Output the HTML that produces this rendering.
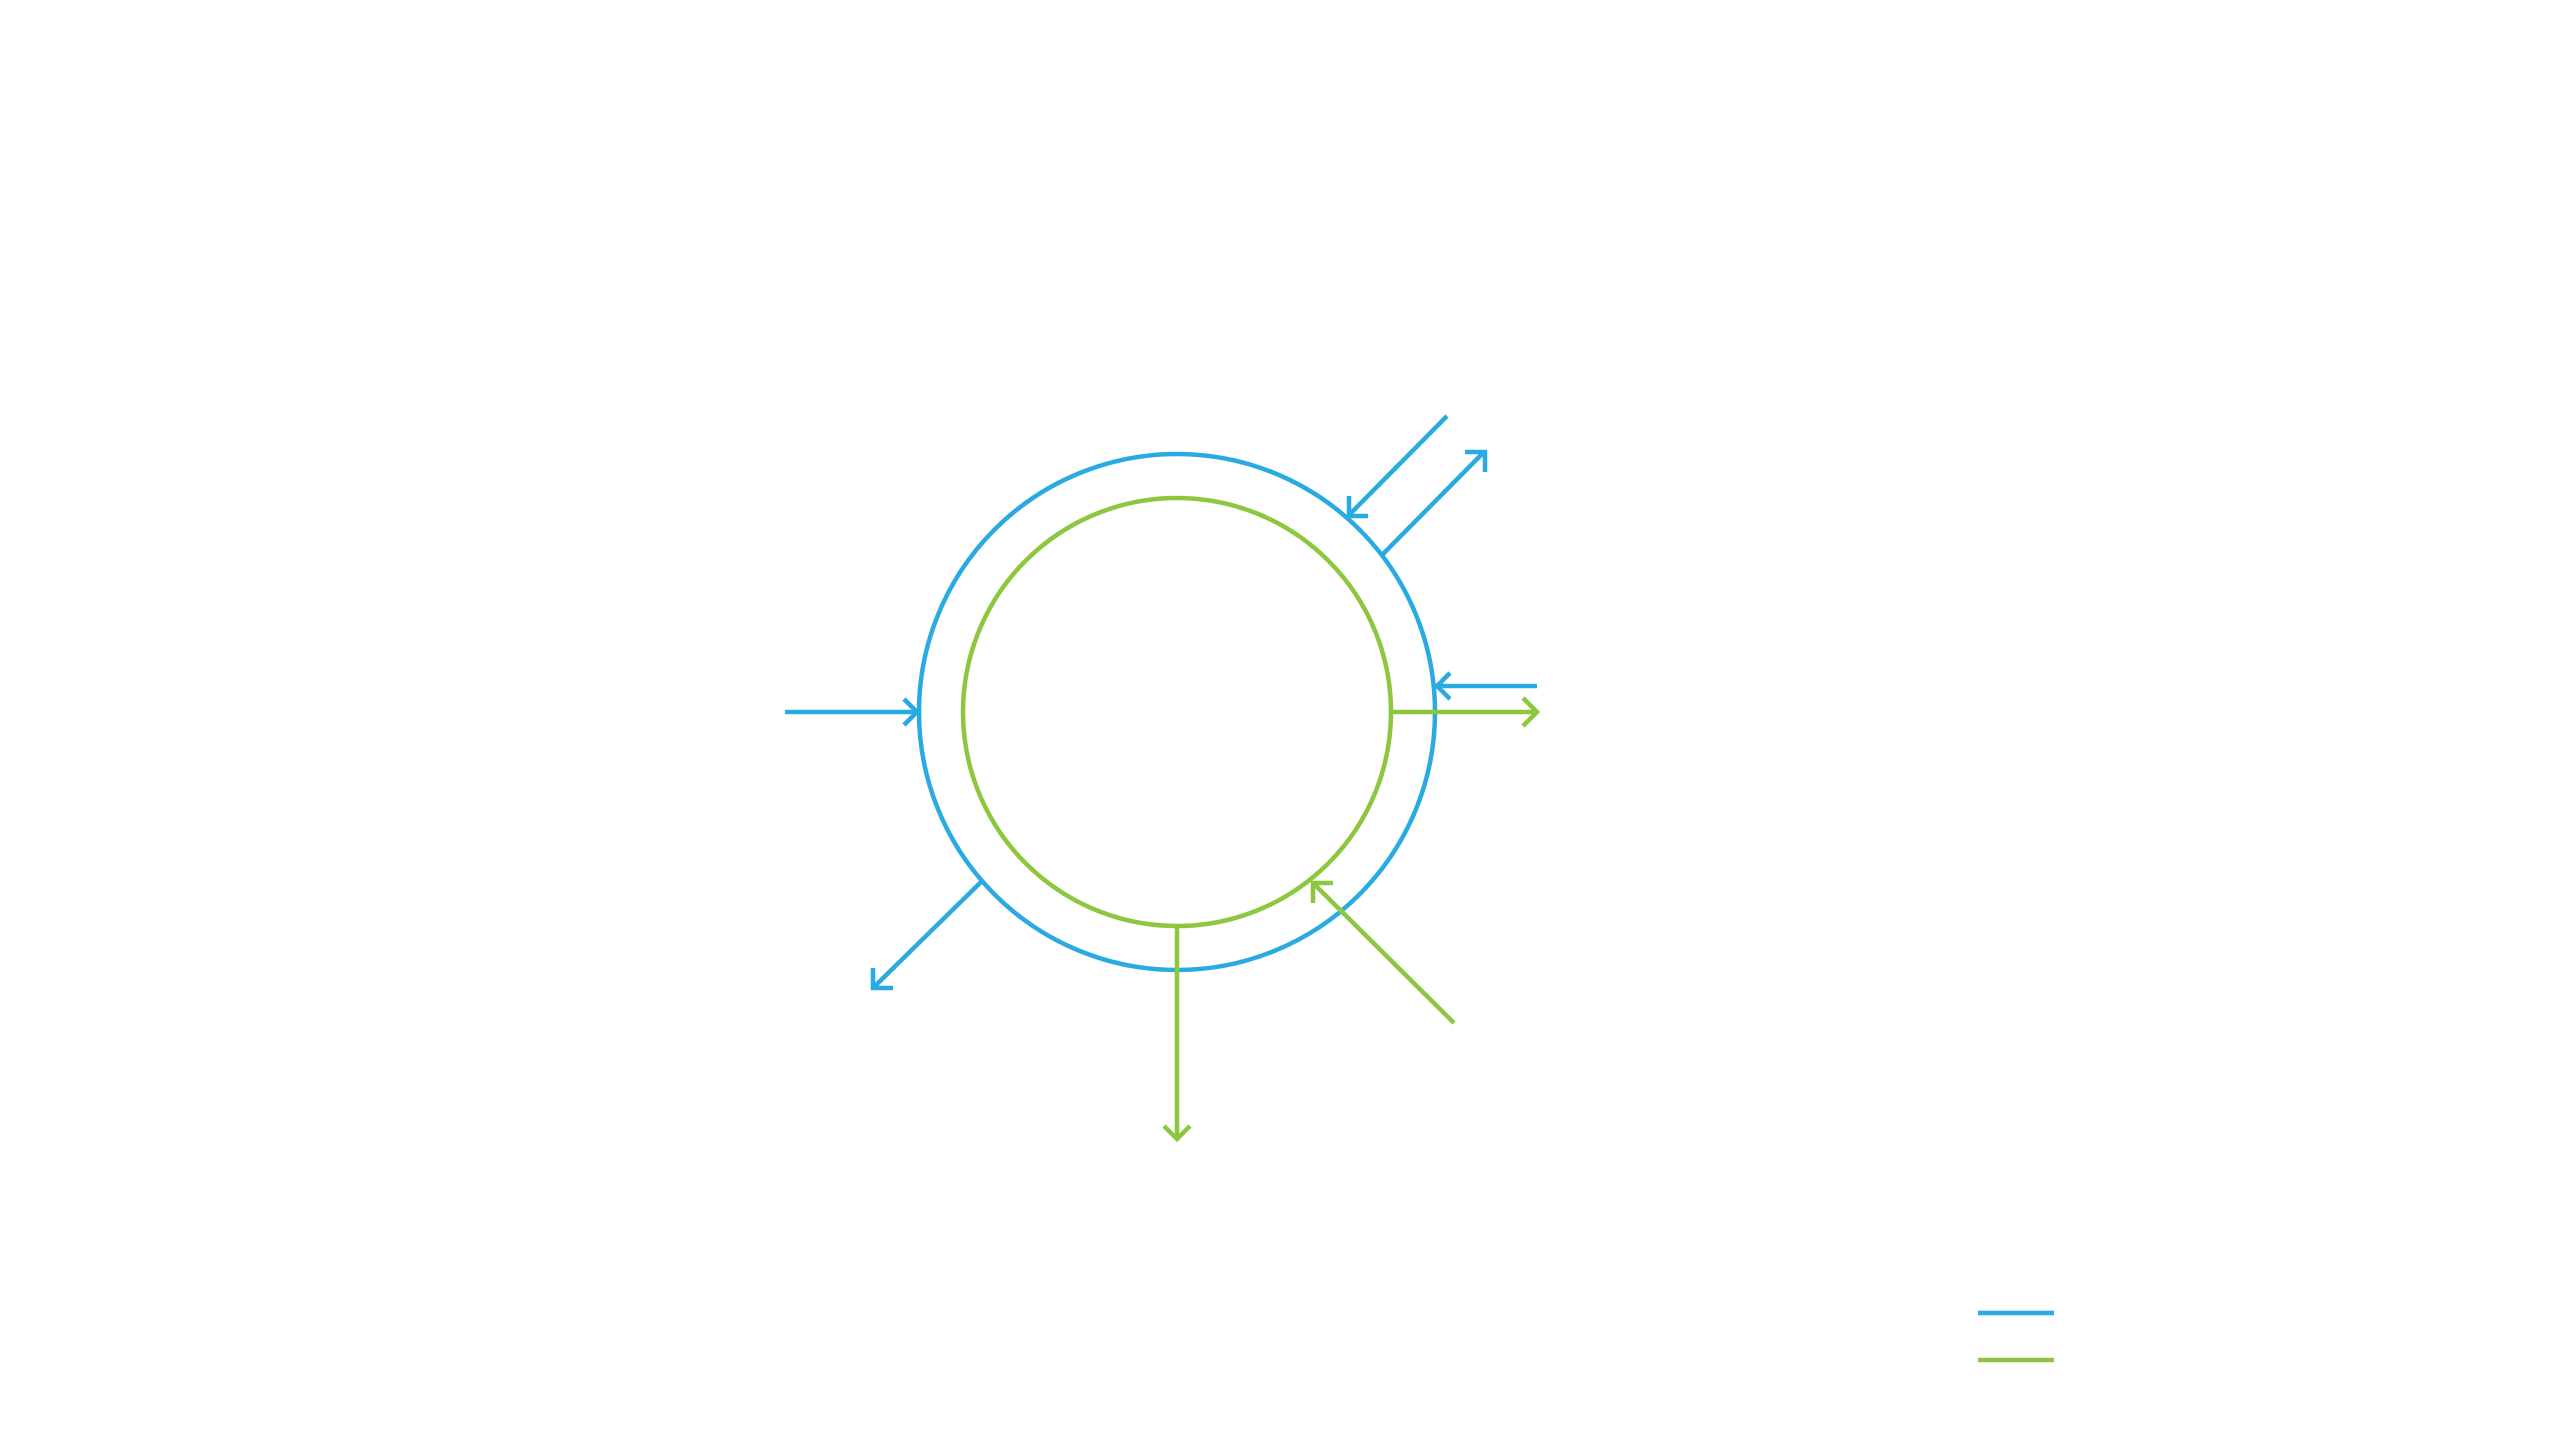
<!DOCTYPE html>
<html><head><style>html,body{margin:0;padding:0;background:#fff;width:2560px;height:1440px;overflow:hidden}</style></head>
<body>
<svg width="2560" height="1440" viewBox="0 0 2560 1440" xmlns="http://www.w3.org/2000/svg">
<g fill="none" stroke-width="4.5" stroke-linecap="butt">
<g stroke="#29abe2">
<circle cx="1177" cy="712" r="258"/>
<!-- left in -->
<line x1="785" y1="712" x2="918" y2="712"/>
<polyline points="904,699 917,712 904,725"/>
<!-- bottom-left out -->
<line x1="981" y1="882" x2="874" y2="987"/>
<polyline points="873,968 873,988 893,988"/>
<!-- top-right in -->
<line x1="1447" y1="416" x2="1350" y2="514"/>
<polyline points="1349,496 1349,516 1368,516"/>
<!-- top-right out -->
<line x1="1383" y1="554" x2="1483" y2="453"/>
<polyline points="1465,452 1485,452 1485,472"/>
<!-- right in -->
<line x1="1537" y1="686" x2="1437" y2="686"/>
<polyline points="1450,673 1437,686 1450,699"/>
<line x1="1978" y1="1313" x2="2054" y2="1313"/>
</g>
<g stroke="#8dc63f">
<circle cx="1177" cy="712" r="214"/>
<!-- right out -->
<line x1="1393" y1="712" x2="1538" y2="712"/>
<polyline points="1523,698 1537,712 1523,726"/>
<!-- bottom out -->
<line x1="1177" y1="926" x2="1177" y2="1139"/>
<polyline points="1164,1126 1177,1139 1190,1126"/>
<!-- diag in -->
<line x1="1454" y1="1023" x2="1314" y2="884"/>
<polyline points="1313,903 1313,883 1333,883"/>
<line x1="1978" y1="1360" x2="2054" y2="1360"/>
</g>
</g>
</svg>
</body></html>
